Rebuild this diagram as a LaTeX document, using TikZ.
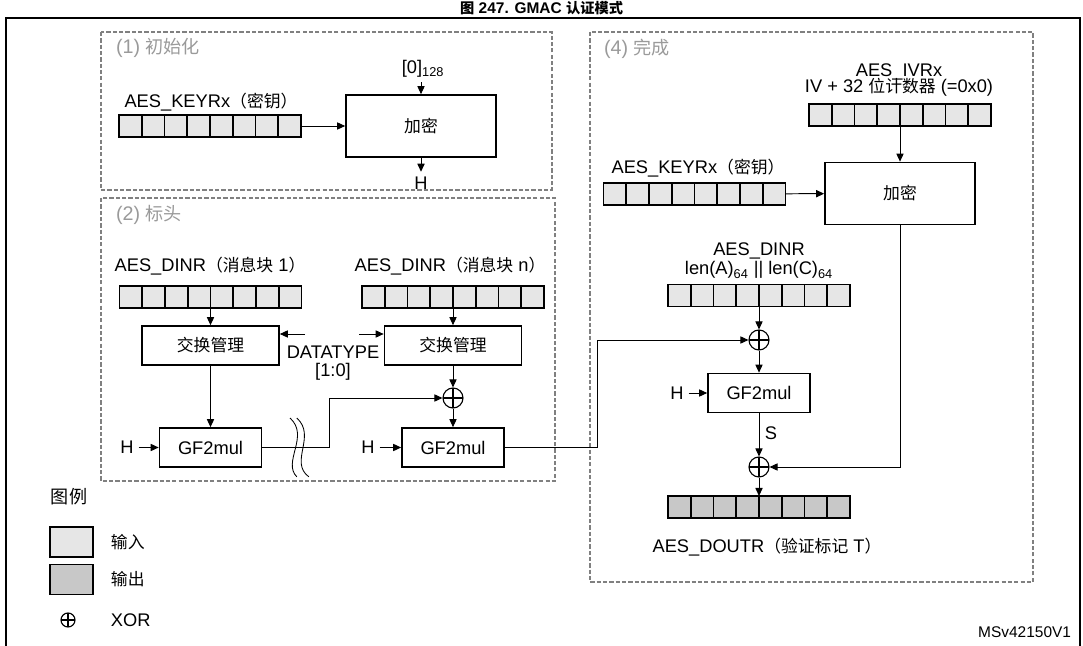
\documentclass[tikz,border=0pt]{standalone}
\usepackage{fontspec}
\setmainfont{Liberation Sans}
\newfontfamily\cjk[Scale=0.92]{Noto Sans CJK SC}
\usetikzlibrary{arrows.meta, positioning, calc}
\definecolor{regin}{HTML}{E6E6E6}
\definecolor{regout}{HTML}{C8C8C8}
\definecolor{secgray}{HTML}{9A9A9A}
\definecolor{dashgray}{HTML}{808080}
\newcommand{\zh}[1]{{\cjk #1}}
% 7 inner separators of an 8-cell register
\newcommand{\regcells}[1]{%
  \foreach \i in {1,...,7}{%
    \draw[line width=1.2pt] ($(#1.north west)!\i/8!(#1.north east)$)
      -- ($(#1.south west)!\i/8!(#1.south east)$);}}

\begin{document}
\begin{tikzpicture}[
  >={Triangle[length=2mm, width=1.8mm]},
  font=\fontsize{13}{15}\selectfont,
  reg/.style={
    draw=black, line width=1.2pt, fill=#1, minimum width=4.55cm,
    minimum height=0.55cm, inner sep=0pt, outer sep=0pt
  },
  encbox/.style={draw=black, line width=1.2pt, minimum width=3.75cm,
    minimum height=1.55cm, inner sep=0pt},
  swapbox/.style={draw=black, line width=1.2pt, minimum width=3.425cm,
    minimum height=0.975cm, inner sep=0pt},
  gfbox/.style={draw=black, line width=1.2pt, minimum width=2.55cm,
    minimum height=0.975cm, inner sep=0pt},
  xor/.style={circle, draw=black, line width=0.8pt, minimum size=#1, inner sep=0pt,
    path picture={\draw[line width=0.8pt]
      (path picture bounding box.north) -- (path picture bounding box.south)
      (path picture bounding box.west) -- (path picture bounding box.east);}},
  xor/.default=5mm,
  sect/.style={draw=dashgray, line width=0.8pt, dash pattern=on 3pt off 1.5pt},
  seclbl/.style={font=\fontsize{14}{16}\selectfont, text=secgray, anchor=west},
  arr/.style={->, line width=0.7pt, black},
  ln/.style={line width=0.7pt, black},
]

% Page area and frame
\clip (0,0) rectangle (27.075,-16.15);
\fill[white] (0,0) rectangle (27.075,-16.15);
\draw[line width=2pt] (0.15,-0.45) rectangle (27.0,-16.6);

% Title
\node[font=\fontsize{11}{13}\selectfont\bfseries, anchor=base, inner sep=0pt] (title)
  at (13.54,-0.33) {\zh{图} 247. GMAC \zh{认证模式}};

% =============================================
% (1) Init
% =============================================
\draw[sect] (2.525,-0.8) rectangle (13.8,-4.75);
\node[seclbl] (s1) at (2.78,-1.2) {(1) \zh{初始化}};

\node[reg=regin] (key1) at (5.25,-3.15) {};
\regcells{key1}
\node (key1-lbl) at (5.275,-2.55) {AES\_KEYRx\zh{（密钥）}};

\node[encbox] (enc1) at (10.525,-3.15) {\zh{加密}};
\node (zero) at (10.575,-1.72) {[0]\textsubscript{128}};
\node (h0) at (10.525,-4.575) {H};

\draw[arr] (key1) -- (enc1);
\draw[arr] (zero.south -| enc1.north) -- (enc1.north);
\draw[arr] (enc1.south) -- (h0.north);

% =============================================
% (2) Header
% =============================================
\draw[sect] (2.525,-4.95) rectangle (13.875,-12.025);
\node[seclbl] (s2) at (2.78,-5.375) {(2) \zh{标头}};

% block 1
\node[reg=regin] (din1) at (5.2625,-7.425) {};
\regcells{din1}
\node (din1-lbl) at (5.25,-6.65) {AES\_DINR\zh{（消息块} 1\zh{）}};
\node[swapbox] (swap1) at (5.2625,-8.6375) {\zh{交换管理}};
\node[gfbox] (gf1) at (5.2625,-11.1875) {GF2mul};
\node (h1) at (3.175,-11.1875) {H};

% block n
\node[reg=regin] (dinn) at (11.325,-7.425) {};
\regcells{dinn}
\node (dinn-lbl) at (11.25,-6.65) {AES\_DINR\zh{（消息块} n\zh{）}};
\node[swapbox] (swapn) at (11.325,-8.6375) {\zh{交换管理}};
\node[xor] (xor1) at (11.325,-9.95) {};
\node[gfbox] (gf2) at (11.325,-11.1875) {GF2mul};
\node (h2) at (9.2,-11.1875) {H};

% DATATYPE
\node[align=center] (dtype) at (8.325,-9.075) {DATATYPE\\[-2pt]{}[1:0]};
\coordinate (dt1) at (7.625,-8.35);
\coordinate (dt2) at (8.975,-8.35);
\coordinate (bend1) at (8.225,-11.1875);
\coordinate (bend2) at (14.925,-11.1875);

% Arrows
\draw[arr] (din1) -- (swap1);
\draw[arr] (swap1) -- (gf1);
\draw[arr] (h1) -- (gf1);
\draw[arr] (dinn) -- (swapn);
\draw[arr] (swapn) -- (xor1);
\draw[arr] (xor1) -- (gf2);
\draw[arr] (h2) -- (gf2);
\draw[arr] (dt1) -- (dt1 -| swap1.east);
\draw[arr] (dt2) -- (dt2 -| swapn.west);
\draw[arr] (gf1.east) -- (bend1) |- (xor1.west);

% Break mark
\draw[line width=0.6pt] (7.25,-10.45) .. controls (7.75,-10.9) and (7.05,-11.55) .. (7.42,-11.92);
\draw[line width=0.6pt] (7.42,-10.45) .. controls (7.92,-10.9) and (7.22,-11.55) .. (7.72,-11.92);

% =============================================
% (4) Final
% =============================================
\draw[sect] (14.75,-0.8) rectangle (25.825,-14.55);
\node[seclbl] (s4) at (14.98,-1.225) {(4) \zh{完成}};

\node[align=center] (iv-lbl) at (22.475,-2.0)
  {AES\_IVRx\\[-3pt]IV + 32 \zh{位计数器} (=0x0)};
\node[reg=regin] (iv) at (22.5,-2.875) {};
\regcells{iv}
\node[encbox] (enc2) at (22.5,-4.8375) {\zh{加密}};

\node[reg=regin] (key2) at (17.3625,-4.85) {};
\regcells{key2}
\node (key2-lbl) at (17.45,-4.2) {AES\_KEYRx\zh{（密钥）}};

\node[align=center] (din2-lbl) at (18.975,-6.525)
  {AES\_DINR\\[-1.5pt]len(A)\textsubscript{64} || len(C)\textsubscript{64}};
\node[reg=regin] (din2) at (18.975,-7.3875) {};
\regcells{din2}
\node[xor] (xor2) at (18.975,-8.5) {};
\node[gfbox] (gf3) at (18.975,-9.825) {GF2mul};
\node (h3) at (16.925,-9.825) {H};
\node (s-lbl) at (19.275,-10.825) {S};
\node[xor] (xor3) at (18.975,-11.675) {};
\node[reg=regout] (tag) at (18.975,-12.675) {};
\regcells{tag}
\node (tag-lbl) at (19.175,-13.675) {AES\_DOUTR\zh{（验证标记} T\zh{）}};

% Arrows
\draw[arr] (iv) -- (enc2);
\draw[arr] (key2) -- (enc2);
\draw[arr] (din2) -- (xor2);
\draw[arr] (xor2) -- (gf3);
\draw[arr] (h3) -- (gf3);
\draw[arr] (gf3) -- (xor3);
\draw[arr] (xor3) -- (tag);
\draw[arr] (enc2.south) |- (xor3.east);
\draw[arr] (gf2.east) -- (bend2) |- (xor2.west);

% =============================================
% Legend
% =============================================
\node[anchor=west, font=\fontsize{14}{16}\selectfont] (key) at (1.15,-12.425) {\zh{图例}};
\node[draw=black, line width=1pt, fill=regin, minimum width=1.075cm,
      minimum height=0.75cm] (in-sq) at (1.7875,-13.55) {};
\node[anchor=west] (in-txt) at (2.65,-13.55) {\zh{输入}};
\node[draw=black, line width=1pt, fill=regout, minimum width=1.075cm,
      minimum height=0.75cm] (out-sq) at (1.7875,-14.4875) {};
\node[anchor=west] (out-txt) at (2.65,-14.4875) {\zh{输出}};
\node[xor=3.5mm] (xor-key) at (1.7,-15.5) {};
\node[anchor=west] (xor-txt) at (2.65,-15.5) {XOR};

% Figure id
\node[anchor=east, font=\fontsize{11}{13}\selectfont] (fig-id) at (26.9,-15.8) {MSv42150V1};

\end{tikzpicture}
\end{document}
